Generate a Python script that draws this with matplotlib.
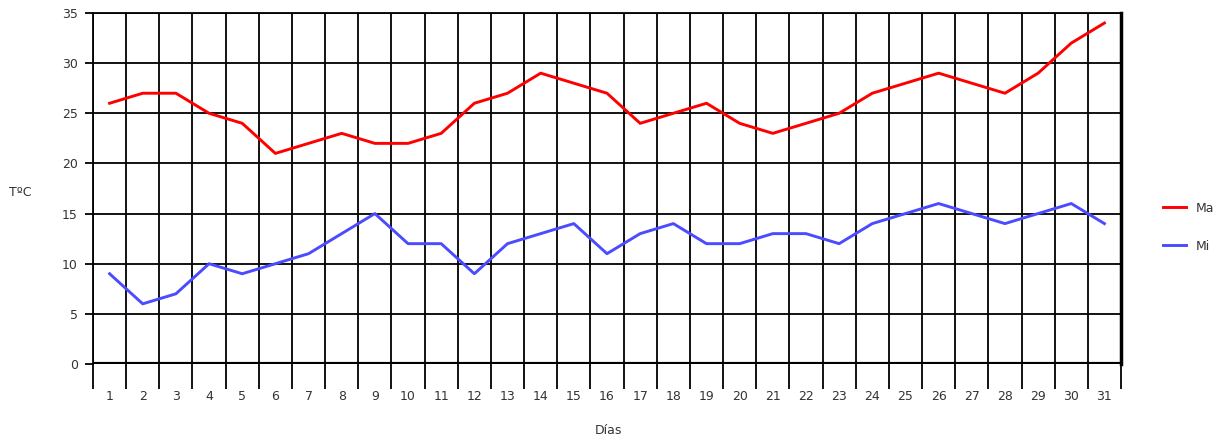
import numpy as np
import matplotlib.pyplot as plt

# daily values
dias = list(range(1, 32))
maxima = [26, 27, 27, 25, 24, 21, 22, 23, 22, 22, 23, 26, 27, 29, 28, 27,
          24, 25, 26, 24, 23, 24, 25, 27, 28, 29, 28, 27, 29, 32, 34]
minima = [9, 6, 7, 10, 9, 10, 11, 13, 15, 12, 12, 9, 12, 13, 14, 11,
          13, 14, 12, 12, 13, 13, 12, 14, 15, 16, 15, 14, 15, 16, 14]
y_ticks = [0, 5, 10, 15, 20, 25, 30, 35]

fig = plt.figure(figsize=(12.24, 4.41), dpi=100)
ax = fig.add_axes([93/1224, 1 - 364/441, (1121-93)/1224, (364-13)/441])

ax.plot(dias, maxima, color='#ff0000', lw=2.1, label='Ma', zorder=3)
ax.plot(dias, minima, color='#4b4bff', lw=2.1, label='Mi', zorder=3)

ax.set_xlim(0.5, 31.5)
ax.set_ylim(0, 35)

# category boundaries as grid
bounds = np.arange(0.5, 32, 1)
ax.set_xticks(dias)
ax.set_xticks(bounds, minor=True)
ax.set_yticks(y_ticks)
ax.grid(True, which='minor', axis='x', color='black', lw=1.3)
ax.grid(True, which='major', axis='y', color='black', lw=1.3)
ax.tick_params(axis='x', which='major', length=0, pad=19, labelsize=9,
               labelcolor='#333333')
ax.tick_params(axis='x', which='minor', length=18, width=1.3, direction='out')
ax.tick_params(axis='y', length=6, width=1.3, labelsize=9, pad=5,
               labelcolor='#333333')
ax.axhline(0, color='black', lw=3, zorder=4)

for s in ['top', 'left']:
    ax.spines[s].set_linewidth(1.3)
ax.spines['right'].set_linewidth(2.5)
ax.spines['bottom'].set_visible(False)

fig.text(20/1224, 1 - 192/441, 'TºC', fontsize=9, ha='center', va='center',
         color='#333333')
fig.text(608/1224, 1 - 430/441, 'Días', fontsize=9, ha='center', va='center',
         color='#333333')

leg = ax.legend(loc='center left', bbox_to_anchor=(1.03, 0.39), frameon=False,
                fontsize=9, handlelength=1.8, labelspacing=2.0)
for t in leg.get_texts():
    t.set_color('#333333')

fig.savefig('out.png', dpi=100)
